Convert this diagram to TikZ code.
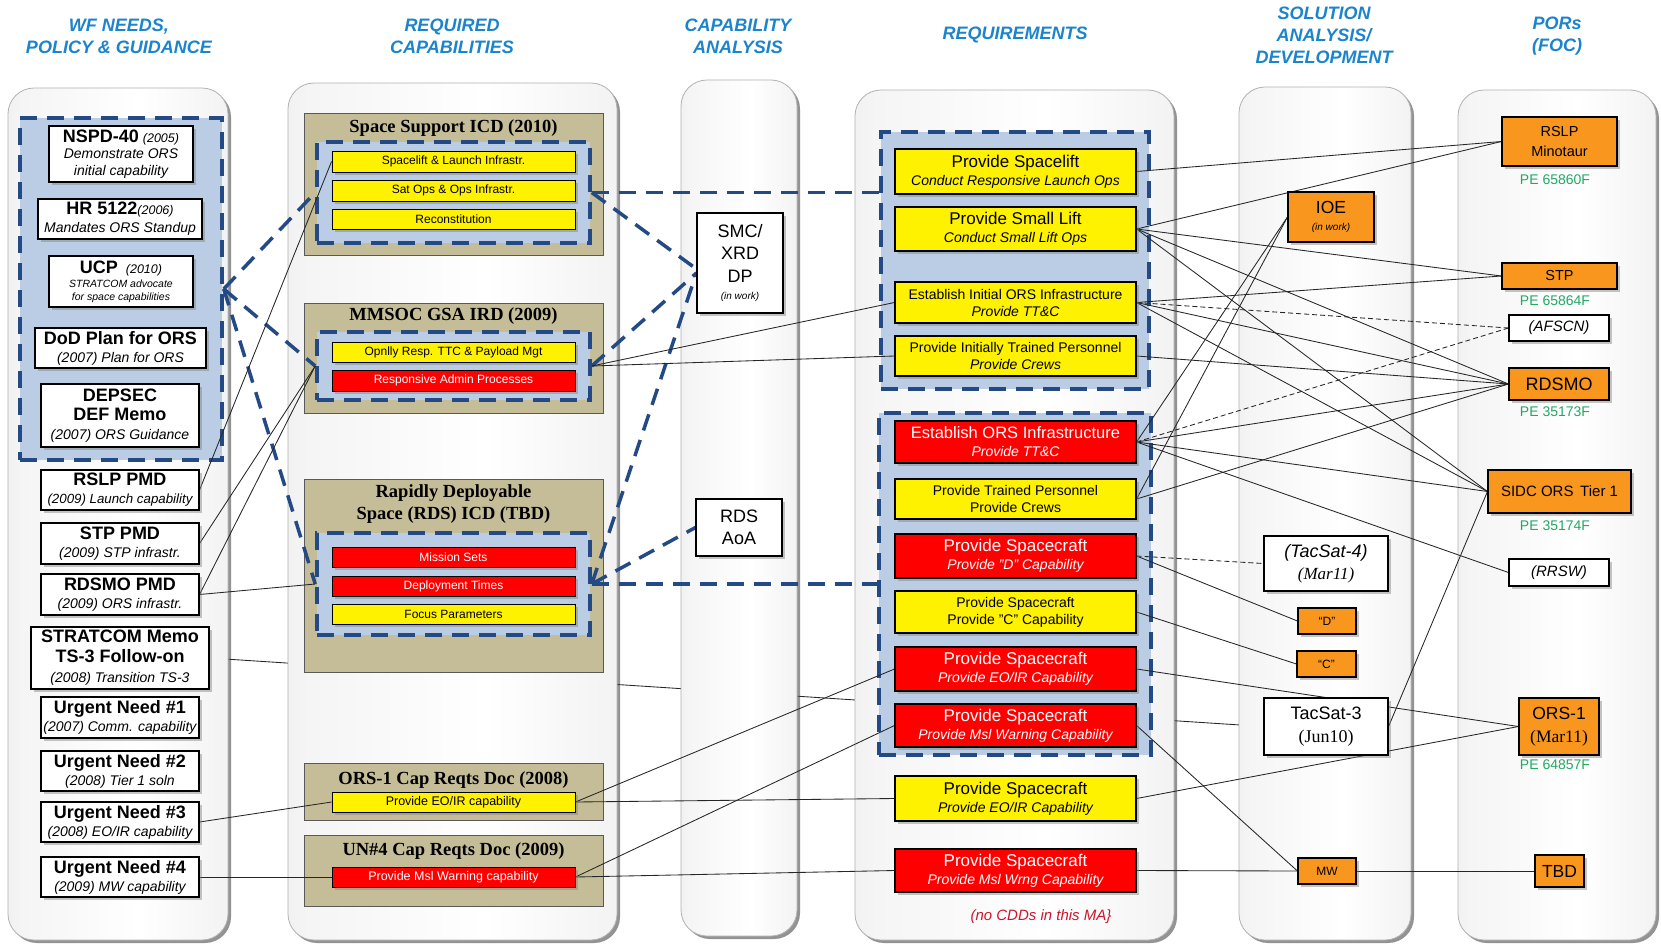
\documentclass[tikz,border=0pt]{standalone}
\usepackage{fontspec}
\setmainfont{Liberation Sans}
\newfontfamily\tmsfont{Liberation Serif}
\usetikzlibrary{shadows,calc}
\definecolor{ttlblue}{RGB}{28,132,204}
\definecolor{dkblue}{RGB}{36,74,134}
\definecolor{ltblue}{RGB}{186,205,229}
\definecolor{tanc}{RGB}{197,189,152}
\definecolor{orng}{RGB}{249,150,30}
\definecolor{pegreen}{RGB}{34,168,100}
\definecolor{crim}{RGB}{205,20,45}
\pgfdeclarehorizontalshading{panelshade}{100bp}{color(0bp)=(black!32); color(10bp)=(black!12); color(28bp)=(black!4); color(55bp)=(white); color(80bp)=(black!6); color(93bp)=(black!20); color(100bp)=(black!42)}
\pgfdeclarelayer{bgl}
\pgfdeclarelayer{pnl}
\pgfdeclarelayer{grp}
\pgfdeclarelayer{cnl}
\pgfsetlayers{bgl,pnl,grp,cnl,main}
\newcommand\fsz[2]{\fontsize{#1}{#2}\selectfont}
\newcommand\mybox[7]{%
  \pgfmathsetmacro\mbW{#4-#2}%
  \pgfmathsetmacro\mbH{#5-#3}%
  \pgfmathsetmacro\mbX{(#2+#4)/2}%
  \pgfmathsetmacro\mbY{(#3+#5)/2}%
  \node[#6, minimum width=\mbW pt, minimum height=\mbH pt] (#1) at (\mbX,\mbY) {#7};%
}
\newcommand\bt[1]{{\fsz{18}{18}\upshape\bfseries #1}}
\newcommand\rt[1]{{\fsz{17}{17}\upshape #1}}
\tikzset{
 panel/.style={rounded corners=26pt, draw=gray!60, line width=0.8pt, shade, shading=panelshade, drop shadow={shadow xshift=3pt, shadow yshift=-3pt, opacity=0.6, fill=black!70}},
 grpbox/.style={draw=dkblue, fill=ltblue, line width=3.5pt, dash pattern=on 17pt off 10pt, inner sep=0pt},
 tanbox/.style={draw=gray!70!black, fill=tanc, line width=0.8pt, inner sep=0pt},
 wbox/.style={draw=black, fill=white, line width=1.1pt, inner sep=1pt, align=center, drop shadow={shadow xshift=2.5pt, shadow yshift=-2.5pt, opacity=0.45}},
 ybox/.style={wbox, fill=yellow},
 rbox/.style={wbox, fill=red, text=white},
 obox/.style={wbox, fill=orng},
 bar/.style={wbox, line width=0.9pt, inner sep=0pt, font=\fsz{12}{13}},
 ybar/.style={bar, fill=yellow},
 rbar/.style={bar, fill=red, text=white},
 c1box/.style={wbox, font=\fsz{14}{18}\itshape},
 reqy/.style={ybox, font=\fsz{14}{18}\itshape},
 reqr/.style={rbox, font=\fsz{14}{18}\itshape},
 hdr/.style={text=ttlblue, font=\fsz{18}{22}\bfseries\itshape, align=center, inner sep=0pt},
 tantitle/.style={font=\tmsfont\fsz{18.5}{22}\bfseries, align=center, inner sep=0pt},
 pelabel/.style={text=pegreen, font=\fsz{14}{16}, inner sep=0pt},
 bigdash/.style={draw=dkblue, line width=3.5pt, dash pattern=on 17pt off 10pt},
 conn/.style={draw=black!85, line width=0.85pt},
 dconn/.style={conn, dash pattern=on 5pt off 3pt},
}
\begin{document}
\begin{tikzpicture}[x=1pt,y=-1pt]
\begin{pgfonlayer}{bgl}
\fill[white] (0,0) rectangle (1661,945);
\end{pgfonlayer}
\useasboundingbox (0,0) rectangle (1661,945);

% ---------- panels ----------
\begin{pgfonlayer}{pnl}
\path[panel] (8,88) rectangle (228,940);
\path[panel] (288,83) rectangle (617,940);
\path[panel] (681,80) rectangle (797,936);
\path[panel] (855,90) rectangle (1174,940);
\path[panel] (1239,87) rectangle (1411,940);
\path[panel] (1458,90) rectangle (1656,940);
\end{pgfonlayer}

% ---------- headers ----------
\node[hdr] (h1) at (119,36) {WF NEEDS,\\POLICY \& GUIDANCE};
\node[hdr] (h2) at (452,36) {REQUIRED\\CAPABILITIES};
\node[hdr] (h3) at (738,36) {CAPABILITY\\ANALYSIS};
\node[hdr] (h4) at (1015,35) {REQUIREMENTS};
\node[hdr] (h5) at (1324,35) {SOLUTION\\ANALYSIS/\\DEVELOPMENT};
\node[hdr] (h6) at (1557,36) {PORs\\(FOC)};

% ---------- group & tan boxes ----------
\begin{pgfonlayer}{grp}
\mybox{wfg}{20}{118}{222}{460}{grpbox}{}
\mybox{tan1}{304}{113}{603}{255}{tanbox}{}
\mybox{tan2}{304}{303}{603}{413}{tanbox}{}
\mybox{tan3}{304}{479}{603}{672}{tanbox}{}
\mybox{tan4}{304}{763}{603}{820}{tanbox}{}
\mybox{tan5}{304}{835}{603}{906}{tanbox}{}
\mybox{sgA}{317}{142}{590}{243}{grpbox}{}
\mybox{sgB}{317}{332}{590}{400}{grpbox}{}
\mybox{sgC}{317}{533}{590}{635}{grpbox}{}
\mybox{rg1}{881}{132}{1149}{389}{grpbox}{}
\mybox{rg2}{879}{413}{1151}{755}{grpbox}{}
\end{pgfonlayer}

% ---------- column 1 ----------
\mybox{nspd}{49}{126}{193}{182}{wbox,font=\fsz{14}{16.5}\itshape}{\bt{NSPD-40} {\fsz{12.5}{14}(2005)}\\Demonstrate ORS\\initial capability}
\mybox{hr}{38}{199}{202}{239}{c1box}{\bt{HR 5122}{\fsz{12.5}{14}(2006)}\\Mandates ORS Standup}
\mybox{ucp}{49}{256}{193}{307}{wbox,font=\fsz{10.5}{12.5}\itshape}{\bt{UCP}\hspace{8pt}{\fsz{12.5}{14}(2010)}\\[2pt]STRATCOM advocate\\for space capabilities}
\mybox{dod}{35}{328}{206}{368}{c1box}{\bt{DoD Plan for ORS}\\(2007) Plan for ORS}
\mybox{dep}{41}{384}{199}{447}{wbox,font=\fsz{14}{19}\itshape}{\bt{DEPSEC}\\\bt{DEF Memo}\\(2007) ORS Guidance}
\mybox{rslppmd}{41}{470}{199}{510}{wbox,font=\fsz{13.3}{18}\itshape}{\bt{RSLP PMD}\\(2009) Launch capability}
\mybox{stppmd}{41}{523}{199}{564}{c1box}{\bt{STP PMD}\\(2009) STP infrastr.}
\mybox{rdsmopmd}{41}{574}{199}{615}{c1box}{\bt{RDSMO PMD}\\(2009) ORS infrastr.}
\mybox{strat}{31}{627}{209}{689}{wbox,font=\fsz{14}{20}\itshape}{\bt{STRATCOM Memo}\\\bt{TS-3 Follow-on}\\(2008) Transition TS-3}
\mybox{un1}{41}{697}{199}{738}{c1box}{\bt{Urgent Need \#1}\\(2007) Comm. capability}
\mybox{un2}{41}{751}{199}{791}{c1box}{\bt{Urgent Need \#2}\\(2008) Tier 1 soln}
\mybox{un3}{41}{802}{199}{842}{c1box}{\bt{Urgent Need \#3}\\(2008) EO/IR capability}
\mybox{un4}{41}{857}{199}{897}{c1box}{\bt{Urgent Need \#4}\\(2009) MW capability}

% ---------- column 2 ----------
\node[tantitle] (t1) at (453.5,128) {Space Support ICD (2010)};
\node[tantitle] (t2) at (453.5,316) {MMSOC GSA IRD (2009)};
\node[tantitle] (t3) at (453.5,504) {Rapidly Deployable\\Space (RDS) ICD (TBD)};
\node[tantitle] (t4) at (453.5,780) {ORS-1 Cap Reqts Doc (2008)};
\node[tantitle] (t5) at (453.5,851) {UN\#4 Cap Reqts Doc (2009)};
\mybox{b11}{332}{151}{575}{172}{ybar}{Spacelift \& Launch Infrastr.}
\mybox{b12}{332}{180}{575}{201}{ybar}{Sat Ops \& Ops Infrastr.}
\mybox{b13}{332}{209}{575}{229}{ybar}{Reconstitution}
\mybox{b21}{332}{342}{575}{362}{ybar}{Opnlly Resp. TTC \& Payload Mgt}
\mybox{b22}{332}{370}{575}{391}{rbar}{Responsive Admin Processes}
\mybox{b31}{332}{547}{575}{567}{rbar}{Mission Sets}
\mybox{b32}{332}{576}{575}{596}{rbar}{Deployment Times}
\mybox{b33}{332}{604}{575}{624}{ybar}{Focus Parameters}
\mybox{b41}{332}{792}{575}{812}{ybar,font=\fsz{12.5}{13}}{Provide EO/IR capability}
\mybox{b51}{332}{867}{575}{887}{rbar,font=\fsz{12.5}{13}}{Provide Msl Warning capability}

% ---------- column 3 ----------
\mybox{smc}{697}{213}{783}{313}{wbox,font=\fsz{18}{22.5}}{SMC/\\XRD\\DP\\[-5pt]{\fsz{10}{12}\itshape (in work)}}
\mybox{aoa}{696}{499}{782}{556}{wbox,font=\fsz{18}{22}}{RDS\\AoA}

% ---------- column 4 ----------
\mybox{rq1}{895}{149}{1136}{194}{reqy}{\rt{Provide Spacelift}\\Conduct Responsive Launch Ops}
\mybox{rq2}{895}{207}{1136}{251}{reqy}{\rt{Provide Small Lift}\\Conduct Small Lift Ops}
\mybox{rq3}{895}{282}{1136}{323}{reqy,font=\fsz{14}{17}\itshape}{{\upshape Establish Initial ORS Infrastructure}\\Provide TT\&C}
\mybox{rq4}{895}{336}{1136}{376}{reqy,font=\fsz{14}{17}\itshape}{{\upshape Provide Initially Trained Personnel}\\Provide Crews}
\mybox{rq5}{895}{421}{1136}{463}{reqr}{{\fsz{16.5}{16.5}\upshape Establish ORS Infrastructure}\\Provide TT\&C}
\mybox{rq6}{895}{479}{1136}{519}{ybox,font=\fsz{14}{17}}{Provide Trained Personnel\\Provide Crews}
\mybox{rq7}{895}{534}{1136}{578}{reqr}{\rt{Provide Spacecraft}\\Provide "D" Capability}
\mybox{rq8}{895}{591}{1136}{633}{ybox,font=\fsz{14}{17}}{Provide Spacecraft\\Provide "C" Capability}
\mybox{rq9}{895}{647}{1136}{691}{reqr}{\rt{Provide Spacecraft}\\Provide EO/IR Capability}
\mybox{rq10}{895}{704}{1136}{747}{reqr}{\rt{Provide Spacecraft}\\Provide Msl Warning Capability}
\mybox{rq11}{895}{776}{1136}{821}{reqy}{\rt{Provide Spacecraft}\\Provide EO/IR Capability}
\mybox{rq12}{895}{849}{1136}{892}{reqr}{\rt{Provide Spacecraft}\\Provide Msl Wrng Capability}
\node[text=crim, font=\fsz{15}{17}\itshape, inner sep=0pt] (nocdd) at (1041,917) {(no CDDs in this MA\}};

% ---------- column 5 ----------
\mybox{ioe}{1288}{192}{1374}{242}{obox,font=\fsz{17.5}{20}}{IOE\\[-3pt]{\fsz{10}{12}\itshape (in work)}}
\mybox{ts4}{1264}{536}{1388}{591}{wbox,font=\fsz{18}{22}\itshape}{(TacSat-4)\\{\tmsfont\fsz{17}{20}(Mar11)}}
\mybox{dbox}{1298}{608}{1356}{634}{obox,font=\fsz{12}{14}}{``D''}
\mybox{cbox}{1297}{651}{1356}{677}{obox,font=\fsz{12}{14}}{``C''}
\mybox{ts3}{1264}{698}{1388}{755}{wbox,font=\fsz{18}{23}}{TacSat-3\\{\tmsfont (Jun10)}}
\mybox{mw}{1298}{858}{1356}{884}{obox,font=\fsz{12}{14}}{MW}

% ---------- column 6 ----------
\mybox{rslp}{1502}{117}{1617}{166}{obox,font=\fsz{14.5}{20}}{RSLP\\Minotaur}
\node[pelabel] (pe1) at (1555,180) {PE 65860F};
\mybox{stp}{1502}{263}{1617}{289}{obox,font=\fsz{14.5}{16}}{STP}
\node[pelabel] (pe2) at (1555,301) {PE 65864F};
\mybox{afscn}{1509}{315}{1609}{341}{wbox,font=\fsz{15}{17}\itshape}{(AFSCN)}
\mybox{rdsmo}{1509}{368}{1609}{400}{obox,font=\fsz{18}{20}}{RDSMO}
\node[pelabel] (pe3) at (1555,412) {PE 35173F};
\mybox{sidc}{1488}{470}{1631}{513}{obox,font=\fsz{15}{17}}{SIDC ORS\, Tier 1}
\node[pelabel] (pe4) at (1555,526) {PE 35174F};
\mybox{rrsw}{1509}{559}{1609}{586}{wbox,font=\fsz{15}{17}\itshape}{(RRSW)}
\mybox{ors1}{1519}{698}{1599}{755}{obox,font=\fsz{17.5}{23}}{ORS-1\\{\tmsfont (Mar11)}}
\node[pelabel] (pe5) at (1555,765) {PE 64857F};
\mybox{tbd}{1535}{855}{1584}{887}{obox,font=\fsz{17.5}{20}}{TBD}

% ---------- line hidden behind panels ----------
\begin{pgfonlayer}{bgl}
\draw[conn] (strat.east) -- (ts3.west);
\end{pgfonlayer}

% ---------- connectors ----------
\begin{pgfonlayer}{cnl}
\draw[bigdash] (wfg.east) -- (sgA.west);
\draw[bigdash] (wfg.east) -- (sgB.west);
\draw[bigdash] (wfg.east) -- (sgC.west);
\draw[bigdash] (sgA.east) -- (sgA.east -| rg1.west);
\draw[bigdash] (sgA.east) -- ($(smc.west)+(0,6)$);
\draw[bigdash] (sgB.east) -- ($(smc.west)+(0,10)$);
\draw[bigdash] (sgC.east) -- ($(smc.west)+(0,10)$);
\draw[bigdash] (sgC.east) -- (aoa.west);
\draw[bigdash] (sgC.east) -- (sgC.east -| rg2.west);

\draw[conn] (rslppmd.east) -- (b11.west);
\draw[conn] (stppmd.east) -- (sgB.west);
\draw[conn] (rdsmopmd.east) -- (sgB.west);
\draw[conn] (rdsmopmd.east) -- (sgC.west);
\draw[conn] (un3.east) -- (b41.west);
\draw[conn] (un4.east) -- (b51.west);
\draw[conn] (sgB.east) -- (rq3.west);
\draw[conn] (sgB.east) -- (rq4.west);
\draw[conn] (b41.east) -- (rq9.west);
\draw[conn] (b41.east) -- (rq11.west);
\draw[conn] (b51.east) -- (rq10.west);
\draw[conn] (b51.east) -- (rq12.west);

\draw[conn] (rq1.east) -- (rslp.west);
\draw[conn] (rq2.east) -- (rslp.west);
\draw[conn] (rq2.east) -- (stp.west);
\draw[conn] (rq2.east) -- (rdsmo.west);
\draw[conn] (rq2.east) -- (sidc.west);
\draw[conn] (rq3.east) -- (stp.west);
\draw[dconn] (rq3.east) -- (afscn.west);
\draw[conn] (rq3.east) -- (rdsmo.west);
\draw[conn] (rq3.east) -- (sidc.west);
\draw[conn] (rq4.east) -- (rdsmo.west);
\draw[conn] (rq5.east) -- (ioe.west);
\draw[dconn] (rq5.east) -- (afscn.west);
\draw[conn] (rq5.east) -- (rdsmo.west);
\draw[conn] (rq5.east) -- (sidc.west);
\draw[conn] (rq5.east) -- (rrsw.west);
\draw[conn] (rq6.east) -- (ioe.west);
\draw[conn] (rq6.east) -- (rdsmo.west);
\draw[dconn] (rq7.east) -- (ts4.west);
\draw[conn] (rq7.east) -- (dbox.west);
\draw[conn] (rq8.east) -- (cbox.west);
\draw[conn] (rq9.east) -- (ors1.west);
\draw[conn] (rq10.east) -- (mw.west);
\draw[conn] (rq11.east) -- (ors1.west);
\draw[conn] (rq12.east) -- (mw.west);
\draw[conn] (mw.east) -- (tbd.west);
\draw[conn] (ts3.east) -- (sidc.west);
\end{pgfonlayer}
\end{tikzpicture}
\end{document}
